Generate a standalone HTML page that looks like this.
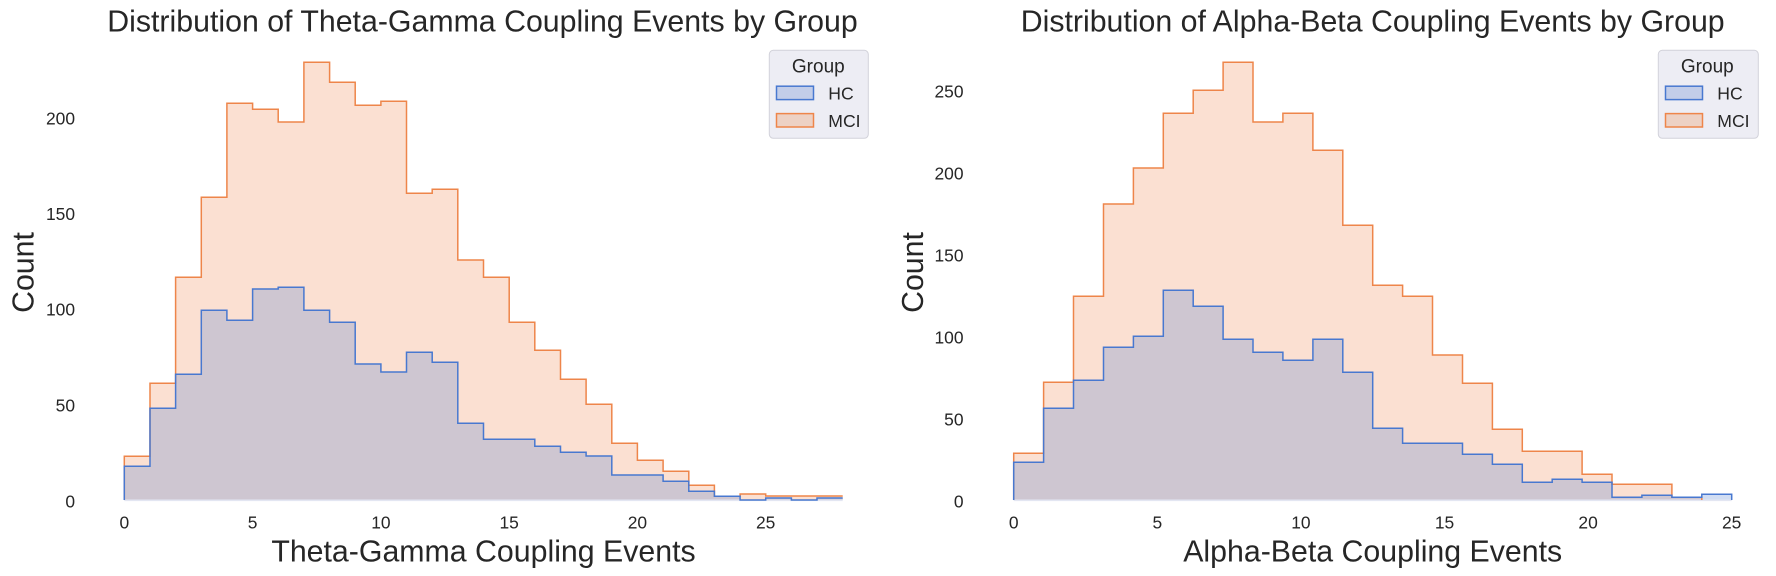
<!DOCTYPE html>
<html>
<head>
<meta charset="utf-8">
<style>
html,body{margin:0;padding:0;background:#ffffff;}
svg{display:block;}
text{font-family:"Liberation Sans",Arial,sans-serif;fill:#262626;}
</style>
</head>
<body>
<svg width="1776" height="576" viewBox="0 0 1776 576" xmlns="http://www.w3.org/2000/svg">
<rect x="0" y="0" width="1776" height="576" fill="#ffffff"/>

<!-- ============ LEFT PLOT ============ -->
<text x="482.5" y="31.7" font-size="30.3" text-anchor="middle">Distribution of Theta-Gamma Coupling Events by Group</text>

<!-- MCI -->
<path d="M124.3,500 V456.3 H150 V383.3 H175.6 V277.3 H201.3 V197.3 H226.9 V103.3 H252.6 V109.3 H278.2 V122 H303.9 V62.3 H329.6 V82.3 H355.2 V105.3 H380.9 V101.3 H406.5 V193.3 H432.2 V189.3 H457.8 V260 H483.5 V277.3 H509.2 V322.3 H534.8 V350.3 H560.5 V379.3 H586.1 V404.3 H611.8 V443.3 H637.4 V460.3 H663.1 V471.3 H688.8 V485.3 H714.4 V496.3 H740.1 V494 H765.7 V496 H842.7 V500 Z" fill="#ee854a" fill-opacity="0.25" stroke="none"/>
<!-- HC -->
<path d="M124.3,500 V466.3 H150 V408.3 H175.6 V374.3 H201.3 V310.3 H226.9 V320.3 H252.6 V289 H278.2 V287.3 H303.9 V310.3 H329.6 V322.3 H355.2 V364 H380.9 V372 H406.5 V352.3 H432.2 V362.3 H457.8 V423.3 H483.5 V439.3 H534.8 V446.3 H560.5 V452.3 H586.1 V456 H611.8 V475 H663.1 V481.3 H688.8 V491.3 H714.4 V496.3 H740.1 V500 H765.7 V498 H791.4 V500 H817 V498 H842.7 V500 Z" fill="#4878d0" fill-opacity="0.25" stroke="none"/>
<line x1="124.3" y1="500.3" x2="842.7" y2="500.3" stroke="#e3e6f2" stroke-width="1.6"/>
<path d="M124.3,500 V456.3 H150 V383.3 H175.6 V277.3 H201.3 V197.3 H226.9 V103.3 H252.6 V109.3 H278.2 V122 H303.9 V62.3 H329.6 V82.3 H355.2 V105.3 H380.9 V101.3 H406.5 V193.3 H432.2 V189.3 H457.8 V260 H483.5 V277.3 H509.2 V322.3 H534.8 V350.3 H560.5 V379.3 H586.1 V404.3 H611.8 V443.3 H637.4 V460.3 H663.1 V471.3 H688.8 V485.3 H714.4 V496.3 H740.1 V494 H765.7 V496 H842.7" fill="none" stroke="#ee854a" stroke-width="1.5"/>
<path d="M124.3,500 V466.3 H150 V408.3 H175.6 V374.3 H201.3 V310.3 H226.9 V320.3 H252.6 V289 H278.2 V287.3 H303.9 V310.3 H329.6 V322.3 H355.2 V364 H380.9 V372 H406.5 V352.3 H432.2 V362.3 H457.8 V423.3 H483.5 V439.3 H534.8 V446.3 H560.5 V452.3 H586.1 V456 H611.8 V475 H663.1 V481.3 H688.8 V491.3 H714.4 V496.3 H740.1 V500 H765.7 V498 H791.4 V500 H817 V498 H842.7" fill="none" stroke="#4878d0" stroke-width="1.5"/>

<!-- y ticks -->
<g font-size="17.4" text-anchor="end">
<text x="75" y="507.5">0</text>
<text x="75" y="411.5">50</text>
<text x="75" y="315.7">100</text>
<text x="75" y="220">150</text>
<text x="75" y="124.3">200</text>
</g>
<!-- x ticks -->
<g font-size="17.4" text-anchor="middle">
<text x="124.3" y="528.5">0</text>
<text x="252.6" y="528.5">5</text>
<text x="380.9" y="528.5">10</text>
<text x="509.2" y="528.5">15</text>
<text x="637.4" y="528.5">20</text>
<text x="765.7" y="528.5">25</text>
</g>
<text x="483.5" y="561.7" font-size="30.3" text-anchor="middle">Theta-Gamma Coupling Events</text>
<text transform="translate(33.3,272.5) rotate(-90)" font-size="30.3" text-anchor="middle">Count</text>

<!-- legend left -->
<rect x="769.3" y="50.3" width="99" height="88" rx="4" ry="4" fill="#eaeaf2" fill-opacity="0.85" stroke="#d2d2da" stroke-width="1"/>
<text x="818.3" y="72.5" font-size="19" text-anchor="middle">Group</text>
<rect x="776.5" y="86.2" width="37" height="13.4" fill="#c2cde9" stroke="#4878d0" stroke-width="1.5"/>
<text x="828.3" y="99.5" font-size="17.6">HC</text>
<rect x="776.5" y="113.6" width="37" height="13.4" fill="#edd1c4" stroke="#ee854a" stroke-width="1.5"/>
<text x="828.3" y="127" font-size="17.6">MCI</text>

<!-- ============ RIGHT PLOT ============ -->
<text x="1372.7" y="31.7" font-size="30.3" text-anchor="middle">Distribution of Alpha-Beta Coupling Events by Group</text>

<path d="M1013.7,500 V453.3 H1043.6 V382.3 H1073.5 V296.3 H1103.5 V204 H1133.4 V168 H1163.3 V113.3 H1193.2 V90.3 H1223.1 V62.3 H1253 V122 H1282.9 V113.3 H1312.9 V150.3 H1342.8 V225.3 H1372.7 V285.3 H1402.6 V296.3 H1432.5 V355 H1462.5 V383.3 H1492.4 V429.3 H1522.3 V451.3 H1582.1 V474.3 H1612 V484.3 H1671.9 V497.3 H1701.8 V500 H1731.7 Z" fill="#ee854a" fill-opacity="0.25" stroke="none"/>
<path d="M1013.7,500 V462.3 H1043.6 V408.3 H1073.5 V380.3 H1103.5 V347.3 H1133.4 V336.3 H1163.3 V290.3 H1193.2 V306.3 H1223.1 V339.3 H1253 V352.3 H1282.9 V360.3 H1312.9 V339.3 H1342.8 V372.3 H1372.7 V428.3 H1402.6 V443.3 H1462.5 V454.3 H1492.4 V464.3 H1522.3 V482.3 H1552.2 V479.3 H1582.1 V482.3 H1612 V497.3 H1641.9 V495.3 H1671.9 V497.3 H1701.8 V494.3 H1731.7 V500 Z" fill="#4878d0" fill-opacity="0.25" stroke="none"/>
<line x1="1013.7" y1="500.3" x2="1731.7" y2="500.3" stroke="#e3e6f2" stroke-width="1.6"/>
<path d="M1013.7,500 V453.3 H1043.6 V382.3 H1073.5 V296.3 H1103.5 V204 H1133.4 V168 H1163.3 V113.3 H1193.2 V90.3 H1223.1 V62.3 H1253 V122 H1282.9 V113.3 H1312.9 V150.3 H1342.8 V225.3 H1372.7 V285.3 H1402.6 V296.3 H1432.5 V355 H1462.5 V383.3 H1492.4 V429.3 H1522.3 V451.3 H1582.1 V474.3 H1612 V484.3 H1671.9 V497.3 H1701.8 V500" fill="none" stroke="#ee854a" stroke-width="1.5"/>
<path d="M1013.7,500 V462.3 H1043.6 V408.3 H1073.5 V380.3 H1103.5 V347.3 H1133.4 V336.3 H1163.3 V290.3 H1193.2 V306.3 H1223.1 V339.3 H1253 V352.3 H1282.9 V360.3 H1312.9 V339.3 H1342.8 V372.3 H1372.7 V428.3 H1402.6 V443.3 H1462.5 V454.3 H1492.4 V464.3 H1522.3 V482.3 H1552.2 V479.3 H1582.1 V482.3 H1612 V497.3 H1641.9 V495.3 H1671.9 V497.3 H1701.8 V494.3 H1731.7 V500" fill="none" stroke="#4878d0" stroke-width="1.5"/>

<g font-size="17.4" text-anchor="end">
<text x="963.5" y="507.5">0</text>
<text x="963.5" y="425.3">50</text>
<text x="963.5" y="343.3">100</text>
<text x="963.5" y="261.4">150</text>
<text x="963.5" y="179.5">200</text>
<text x="963.5" y="97.5">250</text>
</g>
<g font-size="17.4" text-anchor="middle">
<text x="1013.7" y="528.5">0</text>
<text x="1157.3" y="528.5">5</text>
<text x="1300.9" y="528.5">10</text>
<text x="1444.5" y="528.5">15</text>
<text x="1588.1" y="528.5">20</text>
<text x="1731.7" y="528.5">25</text>
</g>
<text x="1372.7" y="561.7" font-size="30.3" text-anchor="middle">Alpha-Beta Coupling Events</text>
<text transform="translate(923,272.5) rotate(-90)" font-size="30.3" text-anchor="middle">Count</text>

<!-- legend right -->
<rect x="1658.3" y="50.3" width="100" height="88" rx="4" ry="4" fill="#eaeaf2" fill-opacity="0.85" stroke="#d2d2da" stroke-width="1"/>
<text x="1707.3" y="72.5" font-size="19" text-anchor="middle">Group</text>
<rect x="1665.5" y="86.2" width="37" height="13.4" fill="#c2cde9" stroke="#4878d0" stroke-width="1.5"/>
<text x="1717.3" y="99.5" font-size="17.6">HC</text>
<rect x="1665.5" y="113.6" width="37" height="13.4" fill="#edd1c4" stroke="#ee854a" stroke-width="1.5"/>
<text x="1717.3" y="127" font-size="17.6">MCI</text>
</svg>
</body>
</html>
